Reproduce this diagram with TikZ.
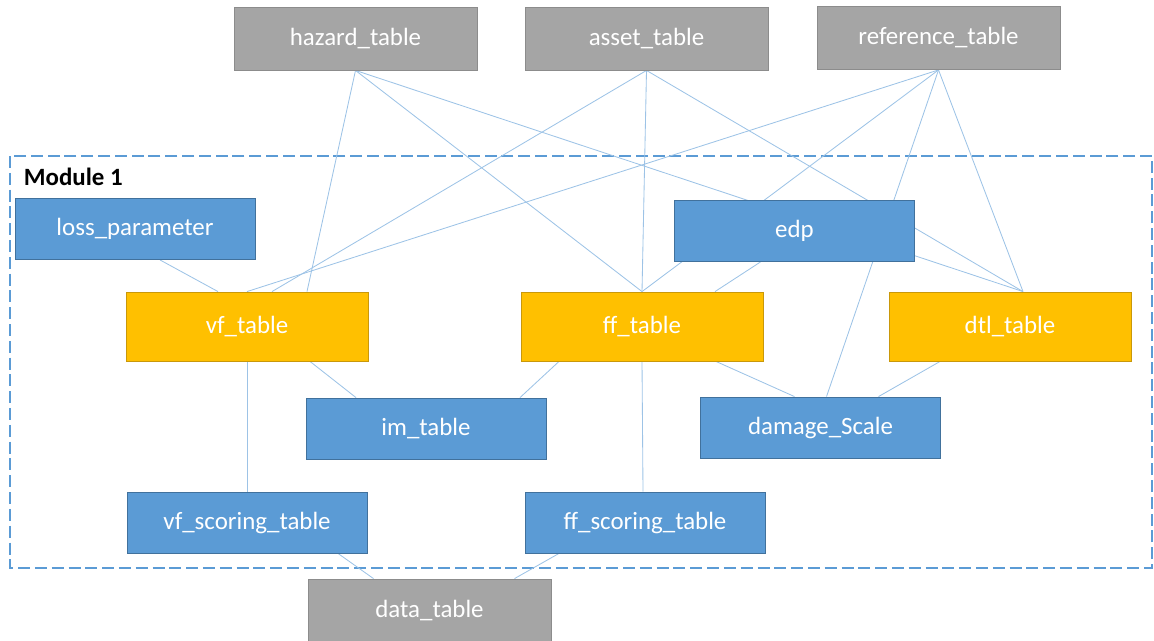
\documentclass[tikz,border=0pt]{standalone}
\usepackage{fontspec}
\setmainfont{Carlito}
\usetikzlibrary{backgrounds,calc}
\definecolor{srcgray}{HTML}{A5A5A5}
\definecolor{srcedge}{HTML}{8C8C8C}
\definecolor{tblblue}{HTML}{5B9BD5}
\definecolor{tbledge}{HTML}{41719C}
\definecolor{coreyellow}{HTML}{FFC000}
\definecolor{coreedge}{HTML}{C9980A}
\definecolor{linkblue}{HTML}{9DC3E6}

\begin{document}
\begin{tikzpicture}[
    x=0.025cm, y=-0.025cm,
    every node/.style={font=\fontsize{17.7}{21}\selectfont},
    src/.style={rectangle, draw=srcedge, fill=srcgray, text=white, line width=0.6pt, inner sep=0pt, minimum width=6.075cm, minimum height=1.575cm},
    tbl/.style={rectangle, draw=tbledge, fill=tblblue, text=white, line width=0.6pt, inner sep=0pt, minimum width=6cm, minimum height=1.525cm},
    core/.style={rectangle, draw=coreedge, fill=coreyellow, text=white, line width=0.6pt, inner sep=0pt, minimum width=6.05cm, minimum height=1.725cm},
    link/.style={draw=linkblue, line width=0.6pt},
    module/.style={draw=tblblue, line width=1.8pt, dash pattern=on 0.3cm off 0.12cm}
]
\useasboundingbox (0,0) rectangle (1154,640);

\node[src] (hazard) at (355.5,38.5) {hazard\_table};
\node[src] (asset) at (646.5,38.5) {asset\_table};
\node[src] (reference) at (938.5,38) {reference\_table};

\node[tbl] (loss) at (135,229) {loss\_parameter};
\node[tbl] (edp) at (794.5,231) {edp};
\node[core] (vf) at (247,326.5) {vf\_table};
\node[core] (ff) at (642,326.5) {ff\_table};
\node[core] (dtl) at (1010,326.5) {dtl\_table};
\node[tbl] (im) at (426,428.5) {im\_table};
\node[tbl] (damage) at (820.5,427.5) {damage\_Scale};
\node[tbl] (vfscore) at (247,522.5) {vf\_scoring\_table};
\node[tbl] (ffscore) at (645,522.5) {ff\_scoring\_table};
\node[src] (data) at (429.5,610.5) {data\_table};

\node[anchor=west, font=\fontsize{17.7}{21}\selectfont\bfseries] (modlabel) at (19,177) {Module 1};

\begin{scope}[on background layer]
\draw[module] (10,156) rectangle (1152,568);

\draw[link] (hazard.south) -- ($(vf.north)+(60,0)$);
\draw[link] (hazard.south) -- (ff.north);
\draw[link] (hazard.south) -- ($(dtl.north)+(13,0)$);
\draw[link] (asset.south) -- ($(vf.north)+(25,0)$);
\draw[link] (asset.south) -- (ff.north);
\draw[link] (asset.south) -- ($(dtl.north)+(13,0)$);
\draw[link] (reference.south) -- (vf.north);
\draw[link] (reference.south) -- (ff.north);
\draw[link] (reference.south) -- ($(damage.north)+(6,0)$);
\draw[link] (reference.south) -- ($(dtl.north)+(13,0)$);

\draw[link] ($(loss.south)+(25,0)$) -- ($(vf.north)+(-29,0)$);
\draw[link] ($(edp.south)+(-34,0)$) -- ($(ff.north)+(73,0)$);

\draw[link] (vf.south) -- (vfscore.north);
\draw[link] ($(vf.south)+(63,0)$) -- ($(im.north)+(-70,0)$);
\draw[link] ($(ff.south)+(-83,0)$) -- ($(im.north)+(94,0)$);
\draw[link] (ff.south) -- ($(ffscore.north)+(-2,0)$);
\draw[link] ($(ff.south)+(74,0)$) -- ($(damage.north)+(-26,0)$);
\draw[link] ($(dtl.south)+(-70,0)$) -- ($(damage.north)+(58,0)$);

\draw[link] ($(vfscore.south)+(91,0)$) -- ($(data.north)+(-56,0)$);
\draw[link] ($(ffscore.south)+(-86,0)$) -- ($(data.north)+(85,0)$);
\end{scope}

\end{tikzpicture}
\end{document}
